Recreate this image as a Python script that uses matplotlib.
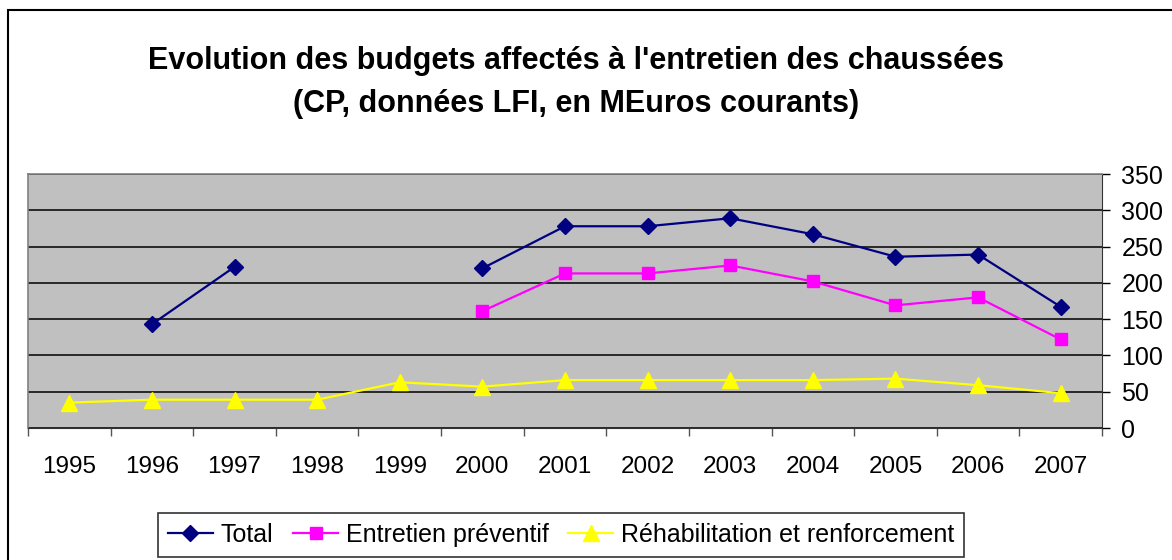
import matplotlib
matplotlib.use("Agg")
import numpy as np
import matplotlib.pyplot as plt
from matplotlib.patches import Rectangle

# données (NaN = pas de valeur)
annees = ["1995", "1996", "1997", "1998", "1999", "2000", "2001",
          "2002", "2003", "2004", "2005", "2006", "2007"]
total = [np.nan, 143, 222, np.nan, np.nan, 220, 278, 278, 289, 267, 236, 239, 167]
preventif = [np.nan, np.nan, np.nan, np.nan, np.nan, 161, 213, 213, 224, 202, 169, 180, 122]
rehab = [35, 39, 39, 39, 63, 57, 66, 66, 66, 66, 68, 59, 48]
yticks = [0, 50, 100, 150, 200, 250, 300, 350]

W, H = 1172, 560
fig = plt.figure(figsize=(W / 100, H / 100), dpi=100)
fig.patch.set_facecolor("white")
plt.rcParams["font.family"] = ["Liberation Sans", "DejaVu Sans"]

# cadre extérieur
fig.patches.append(Rectangle((8 / W, -0.1), 1.2, (H - 10) / H + 0.1,
                             transform=fig.transFigure, fill=False,
                             edgecolor="black", linewidth=1.5))

# titre
fig.text(576 / W, 1 - 61 / H, "Evolution des budgets affectés à l'entretien des chaussées",
         ha="center", va="center", fontsize=22, fontweight="bold")
fig.text(576 / W, 1 - 104 / H, "(CP, données LFI, en MEuros courants)",
         ha="center", va="center", fontsize=22, fontweight="bold")

ax = fig.add_axes([28 / W, (H - 428) / H, (1102 - 28) / W, (428 - 174) / H])
ax.set_facecolor("#C0C0C0")
x = np.arange(len(annees))

ax.plot(x, total, color="#000080", lw=1.6, marker="D", markersize=8.5,
        label="Total", zorder=4)
ax.plot(x, preventif, color="#FF00FF", lw=1.6, marker="s", markersize=9,
        label="Entretien préventif", zorder=3)
ax.plot(x, rehab, color="#FFFF00", lw=1.6, marker="^", markersize=11,
        label="Réhabilitation et renforcement", zorder=2)

ax.set_xlim(-0.5, len(annees) - 0.5)
ax.set_ylim(0, 350)
ax.set_yticks(yticks)
ax.yaxis.tick_right()
ax.grid(axis="y", color="black", lw=1.1)
ax.set_axisbelow(True)

ax.set_xticks(x)
ax.set_xticklabels(annees)
ax.set_xticks(np.arange(-0.5, len(annees), 1), minor=True)
ax.tick_params(axis="x", which="major", length=0, pad=20, labelsize=17.5)
ax.tick_params(axis="x", which="minor", length=6, width=1, color="#555555")
ax.tick_params(axis="y", length=6, width=1, pad=8, labelsize=18, color="black")

for s in ["left", "top"]:
    ax.spines[s].set_color("#808080")
    ax.spines[s].set_linewidth(1.2)
ax.spines["right"].set_color("#333333")
ax.spines["bottom"].set_color("#333333")

leg = fig.legend(loc="center", bbox_to_anchor=(561 / W, (H - 535) / H), ncol=3,
                 fontsize=18, frameon=True, fancybox=False, edgecolor="black",
                 handlelength=1.8, handletextpad=0.3, columnspacing=0.8,
                 borderpad=0.4)
leg.get_frame().set_linewidth(1.2)

fig.savefig("out.png", dpi=100)
